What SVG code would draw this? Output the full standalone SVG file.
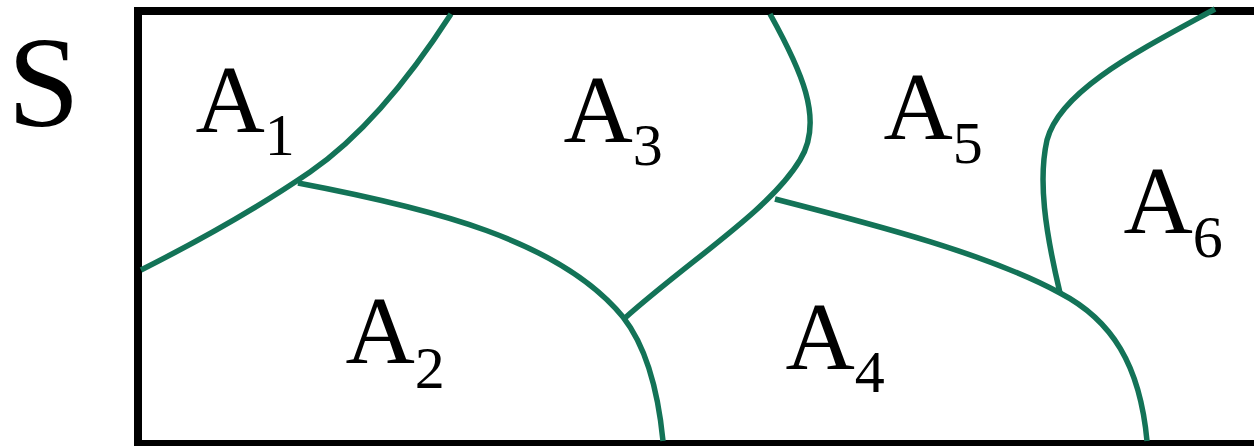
<svg xmlns="http://www.w3.org/2000/svg" width="1254" height="446" viewBox="0 0 1254 446" font-family="Liberation Serif, serif">
  <rect width="1254" height="446" fill="#fff"/>
  <g id="frame">
    <rect x="138" y="11" width="1140" height="433" fill="none" stroke="#000" stroke-width="8"/>
  </g>
  <g id="set-label" transform="translate(7.5,126) scale(3.25)">
    <text font-family="Liberation Serif" x="0" y="0" font-size="40" fill="#000">S</text>
  </g>
  <g id="connectors" fill="none" stroke="#137357" stroke-width="5.5">
    <path d="M141,270 Q240,220 310,172 T451,14"/>
    <path d="M298,183 C430,208 560,240 623,317 C645,345 658,390 663,441"/>
    <path d="M770,14 C800,68 825,120 800,160 C770,210 690,260 625,318"/>
    <path d="M775,199 C880,226 990,255 1060,293 C1112,320 1140,365 1147,441"/>
    <path d="M1215,9 C1140,50 1060,90 1047,140 C1038,180 1045,230 1060,293"/>
  </g>
  <g id="A1" transform="translate(195.5,132) scale(3)"><text x="0" y="0" font-family="Liberation Serif" fill="#000"><tspan font-size="32">A</tspan><tspan font-size="20" dy="7.7">1</tspan></text></g>
  <g id="A2" transform="translate(345.5,363) scale(3)"><text x="0" y="0" font-family="Liberation Serif" fill="#000"><tspan font-size="32">A</tspan><tspan font-size="20" dy="8.3">2</tspan></text></g>
  <g id="A3" transform="translate(563.5,142) scale(3)"><text x="0" y="0" font-family="Liberation Serif" fill="#000"><tspan font-size="32">A</tspan><tspan font-size="20" dy="7.7">3</tspan></text></g>
  <g id="A4" transform="translate(785.5,369) scale(3)"><text x="0" y="0" font-family="Liberation Serif" fill="#000"><tspan font-size="32">A</tspan><tspan font-size="20" dy="7.7">4</tspan></text></g>
  <g id="A5" transform="translate(883.5,139) scale(3)"><text x="0" y="0" font-family="Liberation Serif" fill="#000"><tspan font-size="32">A</tspan><tspan font-size="20" dy="8">5</tspan></text></g>
  <g id="A6" transform="translate(1123.5,233) scale(3)"><text x="0" y="0" font-family="Liberation Serif" fill="#000"><tspan font-size="32">A</tspan><tspan font-size="20" dy="8">6</tspan></text></g>
</svg>
